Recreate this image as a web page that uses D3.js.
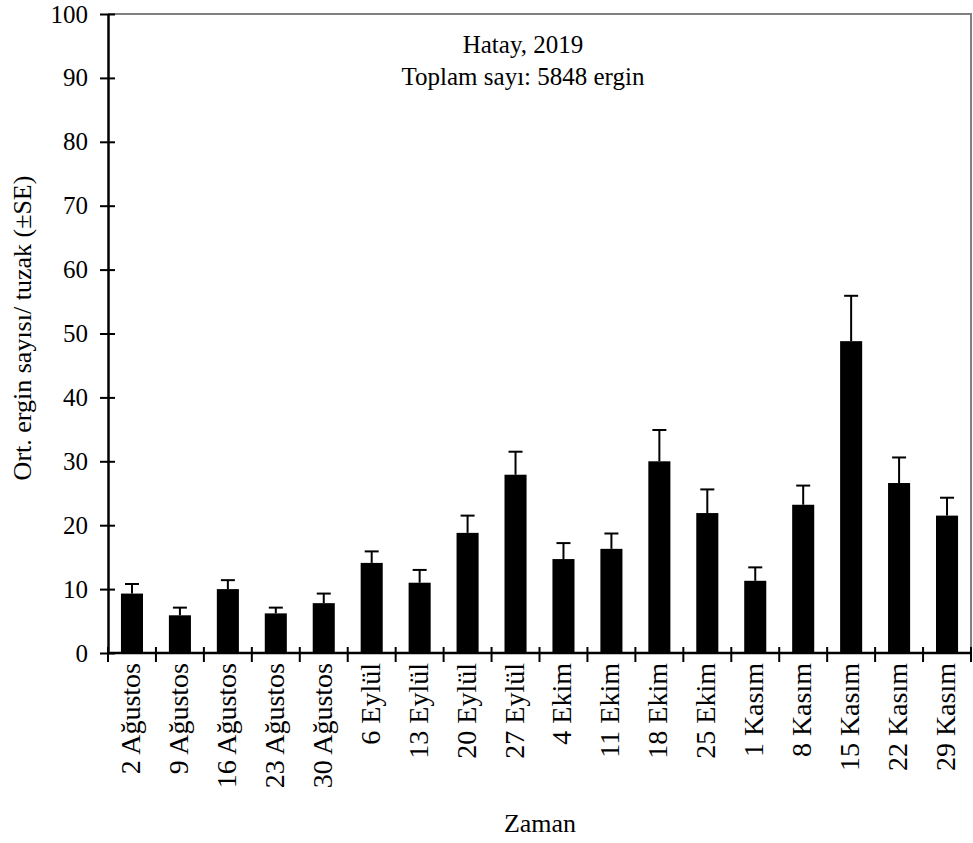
<!DOCTYPE html>
<html>
<head>
<meta charset="utf-8">
<script src="https://cdn.jsdelivr.net/npm/d3@7"></script>
<style>
  body { margin: 0; background: #fff; }
  text { font-family: "Liberation Serif", "Times New Roman", serif; fill: #000; }
</style>
</head>
<body>
<div id="chart"></div>
<script>
// dates (x categories)
var dates = ["2 Ağustos", "9 Ağustos", "16 Ağustos", "23 Ağustos", "30 Ağustos",
    "6 Eylül", "13 Eylül", "20 Eylül", "27 Eylül",
    "4 Ekim", "11 Ekim", "18 Ekim", "25 Ekim",
    "1 Kasım", "8 Kasım", "15 Kasım", "22 Kasım", "29 Kasım"];

// mean adults per trap
var means = [9.3, 5.9, 10.0, 6.2, 7.8, 14.1, 11.0, 18.8, 27.9, 14.7, 16.3, 30.0, 21.9, 11.3, 23.2, 48.8, 26.6, 21.5];

// standard error
var errors = [1.5, 1.2, 1.4, 0.9, 1.5, 1.8, 2.0, 2.7, 3.6, 2.5, 2.4, 4.9, 3.7, 2.1, 3.0, 7.1, 4.0, 2.8];

var yTicks = [0, 10, 20, 30, 40, 50, 60, 70, 80, 90, 100];

var width = 973,
    height = 843;

var svg = d3.select("#chart")
    .append("svg")
    .attr("width", width)
    .attr("height", height);

var x = d3.scaleBand()
    .domain(dates)
    .range([108, 971])
    .paddingInner(0.54)
    .paddingOuter(0.27);

var y = d3.scaleLinear()
    .domain([0, 100])
    .range([653, 14]);

// frame top + right (grey)
svg.append("path")
    .attr("d", `M108,${y(100)}H971V${y(0)}`)
    .attr("fill", "none")
    .attr("stroke", "#808080")
    .attr("stroke-width", 2);

// bars
svg.selectAll("rect.bar")
    .data(means)
    .enter()
    .append("rect")
    .attr("class", "bar")
    .attr("x", (d, i) => x(dates[i]))
    .attr("y", (d) => y(d))
    .attr("width", x.bandwidth())
    .attr("height", (d) => y(0) - y(d))
    .attr("fill", "#000");

// error bars (upper only)
var errs = svg.selectAll("g.err")
    .data(means)
    .enter()
    .append("g")
    .attr("class", "err")
    .attr("stroke", "#000")
    .attr("stroke-width", 2);

errs.append("line")
    .attr("x1", (d, i) => x(dates[i]) + x.bandwidth() / 2)
    .attr("x2", (d, i) => x(dates[i]) + x.bandwidth() / 2)
    .attr("y1", (d) => y(d))
    .attr("y2", (d, i) => y(d + errors[i]));

errs.append("line")
    .attr("x1", (d, i) => x(dates[i]) + x.bandwidth() / 2 - 7)
    .attr("x2", (d, i) => x(dates[i]) + x.bandwidth() / 2 + 7)
    .attr("y1", (d, i) => y(d + errors[i]))
    .attr("y2", (d, i) => y(d + errors[i]));

// y axis
var yAxis = svg.append("g")
    .attr("transform", "translate(108,0)")
    .call(d3.axisLeft(y).tickValues(yTicks).tickSize(0).tickPadding(20));

yAxis.select(".domain").attr("stroke", "#000").attr("stroke-width", 2.5);
yAxis.selectAll(".tick text")
    .attr("font-size", 25)
    .style("font-family", "'Liberation Serif', serif");
yAxis.selectAll(".tick")
    .append("line")
    .attr("x1", -8)
    .attr("x2", 7)
    .attr("stroke", "#000")
    .attr("stroke-width", 2);

// x axis
var xAxis = svg.append("g")
    .attr("transform", `translate(0,${y(0)})`);

xAxis.append("line")
    .attr("x1", 108)
    .attr("x2", 971)
    .attr("stroke", "#000")
    .attr("stroke-width", 2.5);

// ticks between categories
var step = x.step();
var tickPos = d3.range(dates.length + 1).map((i) => 108 + i * step);
xAxis.selectAll("line.xt")
    .data(tickPos)
    .enter()
    .append("line")
    .attr("class", "xt")
    .attr("x1", (d) => d)
    .attr("x2", (d) => d)
    .attr("y1", -6)
    .attr("y2", 9)
    .attr("stroke", "#000")
    .attr("stroke-width", 2);

xAxis.selectAll("text.xl")
    .data(dates)
    .enter()
    .append("text")
    .attr("class", "xl")
    .attr("transform", (d) => `translate(${x(d) + x.bandwidth() / 2 + 8},10) rotate(-90)`)
    .attr("text-anchor", "end")
    .attr("font-size", 28)
    .text((d) => d);

// titles
svg.append("text")
    .attr("x", 523)
    .attr("y", 53)
    .attr("text-anchor", "middle")
    .attr("font-size", 25)
    .text("Hatay, 2019");

svg.append("text")
    .attr("x", 523)
    .attr("y", 85)
    .attr("text-anchor", "middle")
    .attr("font-size", 25)
    .text("Toplam sayı: 5848 ergin");

svg.append("text")
    .attr("x", 540)
    .attr("y", 832)
    .attr("text-anchor", "middle")
    .attr("font-size", 26)
    .text("Zaman");

svg.append("text")
    .attr("transform", "translate(31,328) rotate(-90)")
    .attr("text-anchor", "middle")
    .attr("font-size", 26)
    .text("Ort. ergin sayısı/ tuzak (±SE)");
</script>
</body>
</html>
